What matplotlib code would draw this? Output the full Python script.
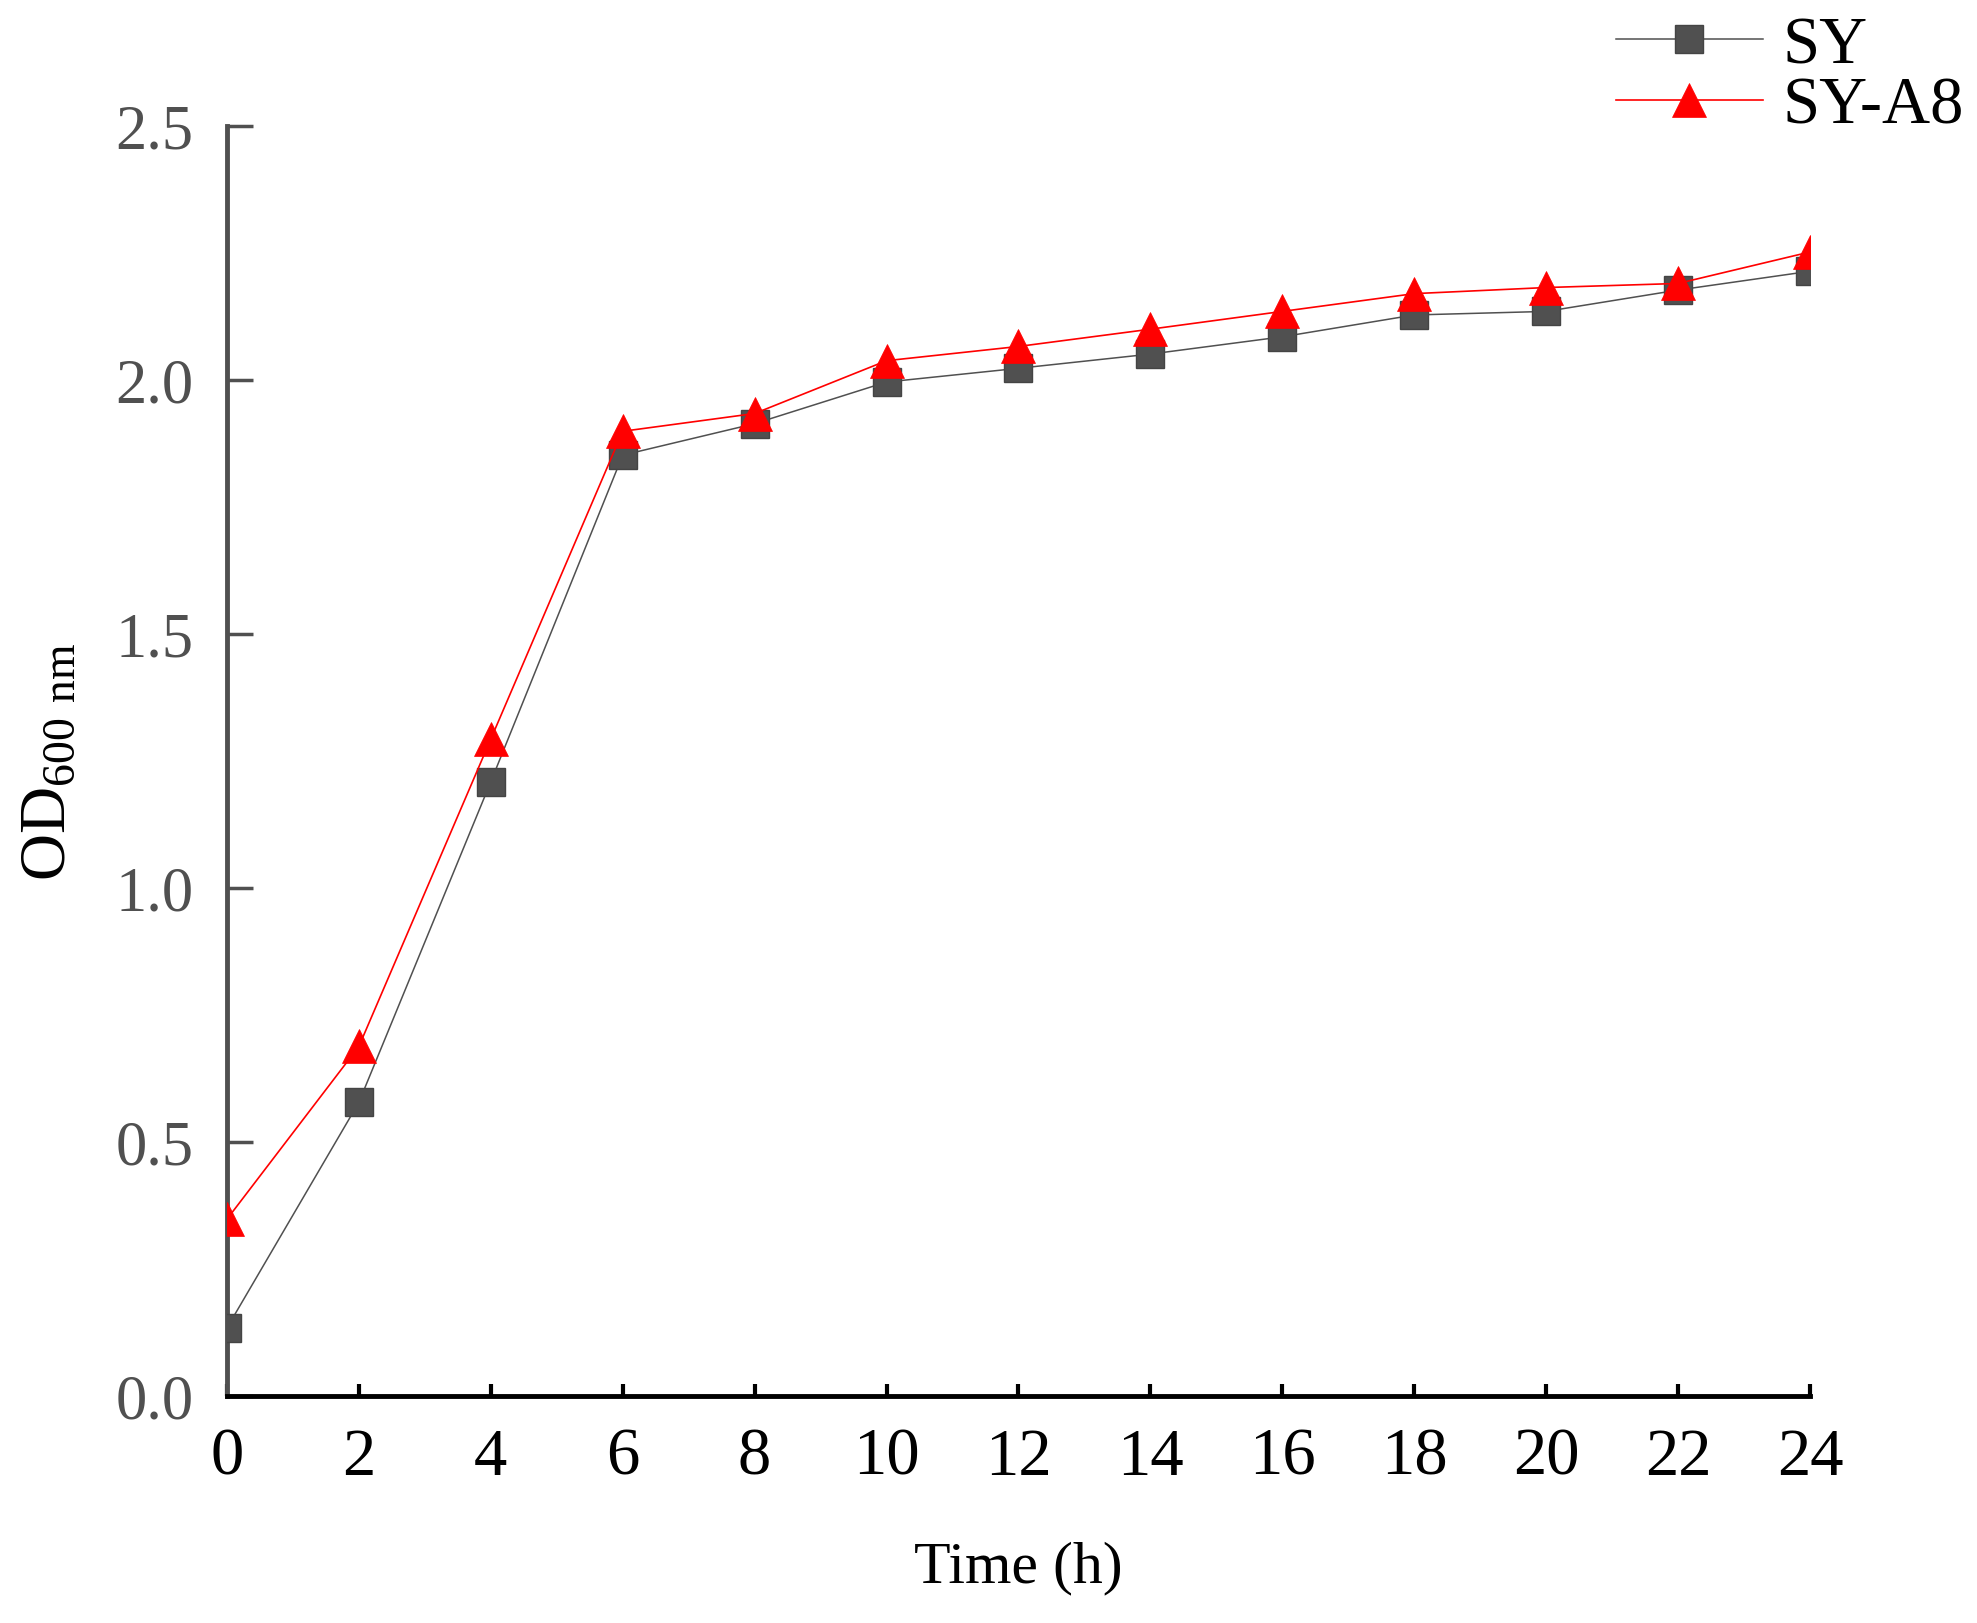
import matplotlib
matplotlib.use("Agg")
import matplotlib.pyplot as plt

# Growth curve data
time_h = [0, 2, 4, 6, 8, 10, 12, 14, 16, 18, 20, 22, 24]
od_sy = [0.134, 0.578, 1.209, 1.852, 1.914, 1.996, 2.023, 2.051, 2.085, 2.128, 2.135, 2.177, 2.214]
od_sy_a8 = [0.348, 0.688, 1.293, 1.899, 1.934, 2.038, 2.066, 2.100, 2.135, 2.170, 2.182, 2.190, 2.252]

x_ticks = list(range(0, 25, 2))
y_ticks = [0.0, 0.5, 1.0, 1.5, 2.0, 2.5]

plt.rcParams["font.family"] = ["Liberation Serif", "DejaVu Serif"]
plt.rcParams["mathtext.fontset"] = "custom"
plt.rcParams["mathtext.rm"] = "Liberation Serif"

grey = "#505050"

fig = plt.figure(figsize=(19.77, 16.24), dpi=100)
ax = fig.add_axes([0.1148, 0.1398, 0.8007, 0.7820])

ax.plot(time_h, od_sy, color=grey, lw=1.1, marker="s", ms=20,
        markerfacecolor=grey, markeredgecolor="#444444", markeredgewidth=1,
        label="SY", zorder=3)
ax.plot(time_h, od_sy_a8, color="red", lw=1.2, marker="^", ms=25,
        markerfacecolor="red", markeredgecolor="red", markeredgewidth=0.5,
        label="SY-A8", zorder=4)

ax.set_xlim(0, 24)
ax.set_ylim(0, 2.5)
ax.set_xticks(x_ticks)
ax.set_yticks(y_ticks)
ax.set_yticklabels([f"{v:.1f}" for v in y_ticks])

for side in ["top", "right"]:
    ax.spines[side].set_visible(False)
ax.spines["left"].set_color(grey)
ax.spines["left"].set_linewidth(3.5)
ax.spines["bottom"].set_color("black")
ax.spines["bottom"].set_linewidth(3.5)

ax.tick_params(axis="y", direction="in", length=19, width=2.5, colors=grey,
               labelsize=45, pad=24)
ax.tick_params(axis="x", direction="in", length=9, width=3, colors="black",
               labelsize=48, pad=22)

ax.set_xlabel("Time (h)", fontsize=43, labelpad=38)
ax.set_ylabel(r"OD$_{\mathregular{600\ nm}}$", fontsize=47, labelpad=26)

ax.legend(loc="upper left", bbox_to_anchor=(1616 / 1977, 1 - 16 / 1624),
          bbox_transform=fig.transFigure, frameon=False, fontsize=48,
          handlelength=2.2, handletextpad=0.3, labelspacing=0.0,
          borderaxespad=0, borderpad=0)

fig.savefig("out.png", dpi=100)
